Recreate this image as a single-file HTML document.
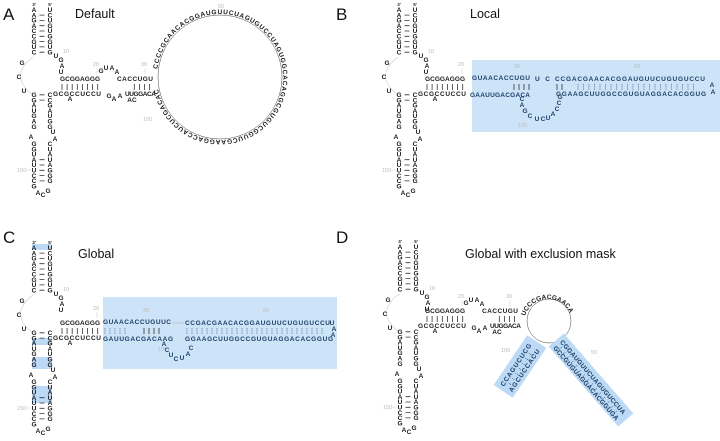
<!DOCTYPE html>
<html><head><meta charset="utf-8"><style>
html,body{margin:0;padding:0;background:#fff;}
svg{display:block;}
.n{font-family:"Liberation Sans",sans-serif;font-weight:bold;font-size:6.5px;fill:#1a1a1a;text-anchor:middle;}
.h{font-family:"Liberation Sans",sans-serif;font-weight:bold;font-size:6.5px;fill:#1a1a1a;}
.b{fill:#1d3f66;}
.g{font-family:"Liberation Sans",sans-serif;font-size:5.5px;fill:#bbb;}
.t{font-family:"Liberation Sans",sans-serif;fill:#111;}
.bar{stroke:#333;stroke-width:0.8;fill:none;}
.dot{stroke:#1d3f66;stroke-width:0.7;stroke-dasharray:0.8 1;fill:none;}
</style></head><body>
<svg width="720" height="441" viewBox="0 0 720 441" xmlns="http://www.w3.org/2000/svg">
<defs>
<g id="stem">
  <text class="n" x="34" y="6" style="font-size:4.5px">3'</text>
  <text class="n" x="50" y="6" style="font-size:4.5px">5'</text>
  <text class="n" x="34 34 34 34 34 34 34 34 34" y="12 17.3 22.6 27.9 33.2 38.5 43.8 49.1 54.4">AAGACCGUC</text>
  <text class="n" x="50 50 50 50 50 50 50 50 50" y="12 17.3 22.6 27.9 33.2 38.5 43.8 49.1 54.4">UCUGUGGUG</text>
  <path class="bar" d="M39.5 15.1h5M39.5 20.4h5M39.5 25.7h5M39.5 31h5M39.5 36.3h5M39.5 41.6h5M39.5 46.9h5M39.5 52.2h5"/>
  <path d="M33 57 Q8 76 33 95" stroke="#ccc" stroke-width="0.6" fill="none"/>
  <text class="n" x="22" y="65">G</text><text class="n" x="19" y="79">C</text><text class="n" x="24" y="93">U</text>
  <text class="n" x="56 61 62 61" y="58 62 68 74">UGAU</text>
  <text class="g" x="63" y="53">10</text>
  <text class="n" x="34 34 34 34 34 34 34" y="97 102.3 107.6 112.9 118.2 123.5 128.8">GGAUGAG</text>
  <text class="n" x="31" y="139">A</text>
  <text class="n" x="34 34 34 34 34 34 34 34 34" y="146 151.3 156.6 161.9 167.2 172.5 177.8 183.1 188.4">GGUAUUCCG</text>
  <text class="n" x="50 50 50 50 50 50 50" y="97 102.3 107.6 112.9 118.2 123.5 128.8">CCGAUGG</text>
  <text class="n" x="53 55" y="134 141">UA</text>
  <text class="n" x="50 50 50 50 50 50 50 50" y="146 151.3 156.6 161.9 167.2 172.5 177.8 183.1">CUAUAGGG</text>
  <text class="n" x="38 43 48" y="195 197 193">ACG</text>
  <path class="bar" d="M39.5 94.8h5M39.5 100.1h5M39.5 159.7h5M39.5 165h5M39.5 170.3h5M39.5 175.6h5M39.5 180.9h5"/>
  <text class="g" x="17" y="172">150</text><path d="M26 170h5" stroke="#ccc" stroke-width="0.5"/>
</g>
<g id="left">
  <text class="h" x="60" y="81" textLength="40" lengthAdjust="spacing">GCGGAGGG</text>
  <path class="bar" d="M62 84v6M67.1 84v6M72.2 84v6M77.3 84v6M82.4 84v6M87.5 84v6M92.6 84v6M97.7 84v6"/>
  <text class="h" x="53" y="96" textLength="48" lengthAdjust="spacing">GCGCCUCCU</text>
  <text class="n" x="70" y="101">A</text>
  <text class="g" x="93" y="66">20</text><path d="M97 68v6" stroke="#ccc" stroke-width="0.5"/>
</g>
<g id="mid">
  <text class="n" x="101 106 112 117" y="73 70 70 74">GUAA</text>
  <text class="h" x="117" y="81" textLength="36" lengthAdjust="spacing">CACCUGU</text>
  <path class="bar" d="M134.3 84v6M139.4 84v6M144.5 84v6M149.6 84v6"/>
  <text class="n" x="109 114 120" y="98 101 98">GAA</text>
  <text class="h" x="125" y="96" textLength="31" lengthAdjust="spacing">UUGGACA</text>
  <text class="n" x="132" y="102">AC</text>
  <text class="g" x="141" y="66">30</text><path d="M145 68v6" stroke="#ccc" stroke-width="0.5"/>
</g>
<path id="circA" d="M157 77 A63 63 0 1 1 157 77.01"/>
<path id="circD" d="M525 316 A24 24 0 0 1 571 330"/>
</defs>

<text class="t" x="3" y="20" font-size="17">A</text>
<text class="t" x="75" y="18" font-size="12.5">Default</text>
<text class="t" x="336" y="20" font-size="17">B</text>
<text class="t" x="470" y="18" font-size="12.5">Local</text>
<text class="t" x="3" y="243" font-size="17">C</text>
<text class="t" x="78" y="258" font-size="12.5">Global</text>
<text class="t" x="336" y="243" font-size="17">D</text>
<text class="t" x="465" y="258" font-size="12.5">Global with exclusion mask</text>

<!-- Panel A -->
<use href="#stem"/>
<use href="#left"/>
<use href="#mid"/>
<circle cx="220" cy="77" r="62" stroke="#444" stroke-width="0.5" fill="none"/>
<text class="h"><textPath href="#circA" startOffset="8" textLength="375" lengthAdjust="spacing">CCCCGCAACACGGAUGUUCUAGUGUCCUAGUGGCACAGGCGUGUCGGUUCGAAGGACCAUCUCGACAC</textPath></text>
<text class="g" x="218" y="8">50</text>
<text class="g" x="143" y="121">100</text>

<!-- Panel B -->
<use href="#stem" transform="translate(365,0)"/>
<use href="#left" transform="translate(365,0)"/>
<rect x="472" y="60" width="248" height="72" fill="#cce3f8"/>
<text class="h b" x="472" y="80" textLength="58" lengthAdjust="spacing">GUAACACCUGU</text>
<text class="h b" x="535" y="81" textLength="15" lengthAdjust="spacing">U C</text>
<text class="h b" x="555" y="81" textLength="150" lengthAdjust="spacing">CCGACGAACACGGAUGUUCUGUGUCCU</text>
<text class="n b" x="712 713" y="87 94">AA</text>
<text class="h b" x="470" y="97" textLength="60" lengthAdjust="spacing">GAAUUGACGACA</text>
<text class="n b" x="522 522 525 530 537 543 548 553 557 559 560" y="101 107 113 118 121 121 120 116 111 105 99">CAGCUCUACCG</text>
<text class="h b" x="556" y="96" textLength="150" lengthAdjust="spacing">GGAAGCUUGGCCGUGUAGGACACGGUG</text>
<path class="bar" d="M514 84v6M519 84v6M524 84v6M529 84v6M557 84v6M562 84v6"/>
<path class="dot" d="M578 84v6M583.5 84v6M589 84v6M594.5 84v6M600 84v6M605.5 84v6M611 84v6M616.5 84v6M622 84v6M627.5 84v6M633 84v6M638.5 84v6M644 84v6M649.5 84v6M655 84v6M660.5 84v6M666 84v6M671.5 84v6M677 84v6M682.5 84v6M688 84v6M693.5 84v6"/>
<text class="g" x="514" y="68">30</text>
<text class="g" x="634" y="68">50</text>
<text class="g" x="518" y="127">100</text>

<!-- Panel C -->
<rect x="32" y="244" width="20" height="6" fill="#bcd9f5"/>
<rect x="32" y="338" width="20" height="7" fill="#bcd9f5"/>
<rect x="32" y="357" width="20" height="12" fill="#bcd9f5"/>
<rect x="32" y="386" width="20" height="17" fill="#bcd9f5"/>
<use href="#stem" transform="translate(0,238)"/>
<use href="#left" transform="translate(0,244)"/>
<rect x="103" y="297" width="234" height="72" fill="#cce3f8"/>
<text class="h b" x="103" y="324" textLength="68" lengthAdjust="spacing">GUAACACCUGUUC</text>
<path d="M172 323h12" stroke="#aaa" stroke-width="0.5"/>
<text class="h b" x="185" y="325" textLength="145" lengthAdjust="spacing">CCGACGAACACGGAUGUUCUGUGUCCU</text>
<text class="n b" x="332 334 333" y="325 331 337">UAA</text>
<text class="h b" x="103" y="341" textLength="70" lengthAdjust="spacing">GAUUGACGACAAG</text>
<text class="n b" x="164 167 171 176 182 188 191" y="346 352 357 361 360 356 350">ACUCUAC</text>
<text class="h b" x="185" y="341" textLength="148" lengthAdjust="spacing">GGAAGCUUGGCCGUGUAGGACACGGUG</text>
<path class="bar" d="M144 328v6M149 328v6M154 328v6M159 328v6"/>
<path class="dot" d="M105 328v6M110 328v6M115 328v6M120 328v6M125 328v6M187 328v6M192 328v6M197 328v6M202 328v6M207 328v6M212 328v6M217 328v6M222 328v6M227 328v6M232 328v6M237 328v6M242 328v6M247 328v6M252 328v6M257 328v6M262 328v6M267 328v6M272 328v6M277 328v6M282 328v6M287 328v6M292 328v6M297 328v6M302 328v6M307 328v6M312 328v6M317 328v6M322 328v6"/>
<text class="g" x="143" y="312">30</text>
<text class="g" x="263" y="312">50</text>
<text class="g" x="158" y="351">100</text>

<!-- Panel D -->
<use href="#stem" transform="translate(366,237)"/>
<use href="#left" transform="translate(365,232)"/>
<use href="#mid" transform="translate(365,232)"/>
<circle cx="549" cy="321" r="22" stroke="#444" stroke-width="0.5" fill="none"/>
<text class="h"><textPath href="#circD" textLength="58" lengthAdjust="spacing">UCCCGACGAACA</textPath></text>
<g transform="translate(520,366.5) rotate(-56)">
  <rect x="-30" y="-11.5" width="60" height="23" fill="#bcd9f5"/>
  <text class="h b" x="-26" y="-2" textLength="50" lengthAdjust="spacing">CCAGUCUCG</text>
  <text class="h b" x="-26" y="8" textLength="50" lengthAdjust="spacing">AGCUCCACU</text>
  <path class="dot" d="M-20 0v3M-14 0v3M-8 0v3M-2 0v3M4 0v3M10 0v3M16 0v3"/>
</g>
<g transform="translate(591,380) rotate(49)">
  <rect x="-53" y="-10" width="106" height="20" fill="#bcd9f5"/>
  <text class="h b" x="-49" y="-1" textLength="96" lengthAdjust="spacing">CGGAUGUUCUAGUGUCCUA</text>
  <text class="h b" x="-49" y="8" textLength="96" lengthAdjust="spacing">GCCGUGUAGGACACGGUGA</text>
  <path class="dot" d="M-44 1v3M-38 1v3M-32 1v3M-26 1v3M-20 1v3M-14 1v3M-8 1v3M-2 1v3M4 1v3M10 1v3M16 1v3M22 1v3M28 1v3M34 1v3M40 1v3"/>
</g>
<text class="g" x="501" y="352">100</text>
<text class="g" x="591" y="354">50</text>
</svg>
</body></html>
